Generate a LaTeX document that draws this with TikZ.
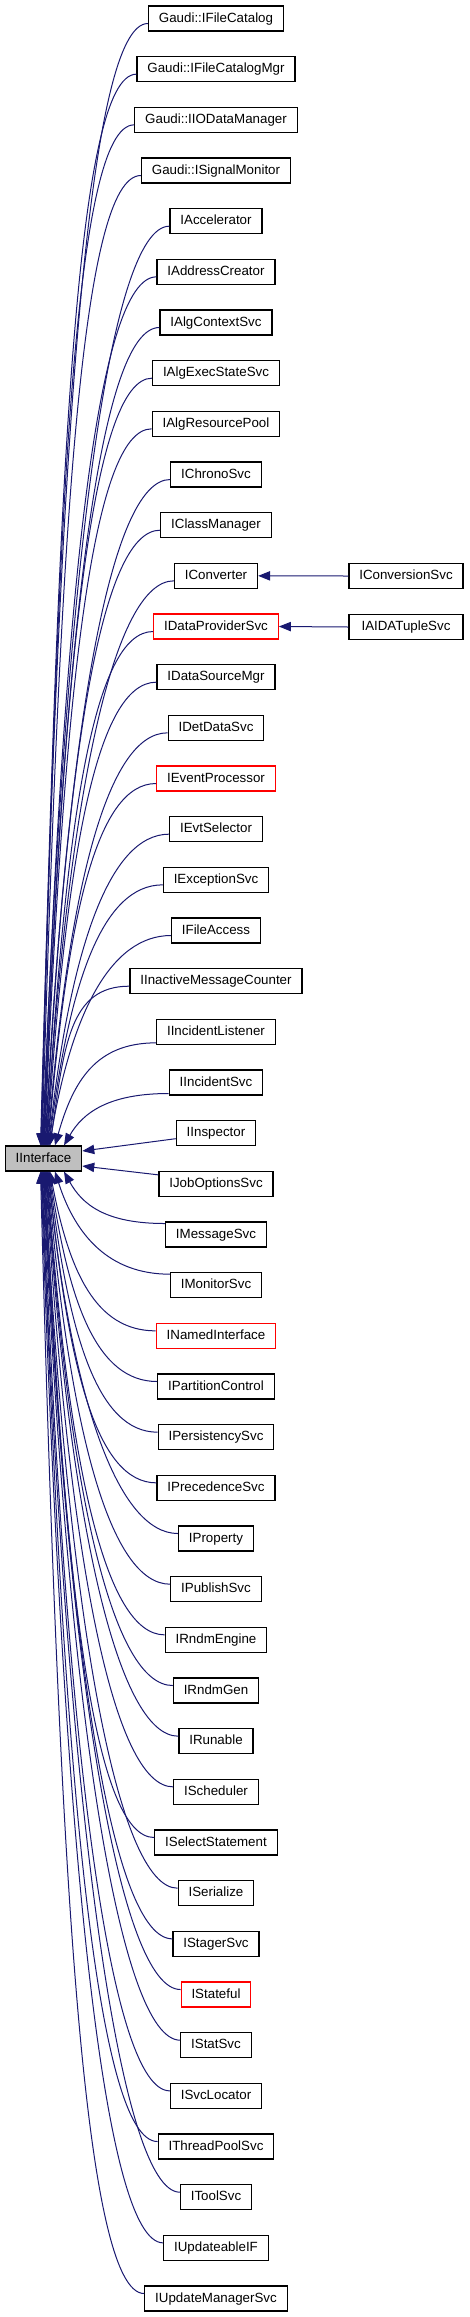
\documentclass[tikz,border=0pt]{standalone}
\usepackage{fontspec}
\setmainfont{Liberation Sans}
\usetikzlibrary{arrows.meta,calc}
\definecolor{midnight}{HTML}{191970}
\definecolor{ifacegray}{HTML}{BFBFBF}
\tikzset{
  cls/.style={draw=black, line width=0.9pt, fill=white, inner xsep=7.8pt, inner ysep=0pt,
    minimum height=18.75pt, text height=7.5pt, text depth=2pt, font=\fontsize{10}{12}\selectfont},
  clsred/.style={cls, draw=red},
  clsbase/.style={cls, fill=ifacegray},
  clsright/.style={cls, minimum width=85.5pt},
  inherit/.style={->, draw=midnight, line width=0.75pt}
}
\begin{document}
\begin{tikzpicture}[x=0.75pt, y=-0.75pt, >={Triangle[length=9pt,width=7pt]}]
	\useasboundingbox (0,0) rectangle (469,2317);
	% base class
	\node[clsbase] (iface) at (43.5,1158.5) {IInterface};
	% derived classes, one per row
	\foreach \name/\sty [count=\i from 0] in {Gaudi::IFileCatalog/cls, Gaudi::IFileCatalogMgr/cls,
		Gaudi::IIODataManager/cls, Gaudi::ISignalMonitor/cls, IAccelerator/cls, IAddressCreator/cls,
		IAlgContextSvc/cls, IAlgExecStateSvc/cls, IAlgResourcePool/cls, IChronoSvc/cls,
		IClassManager/cls, IConverter/cls, IDataProviderSvc/clsred, IDataSourceMgr/cls,
		IDetDataSvc/cls, IEventProcessor/clsred, IEvtSelector/cls, IExceptionSvc/cls,
		IFileAccess/cls, IInactiveMessageCounter/cls, IIncidentListener/cls, IIncidentSvc/cls,
		IInspector/cls, IJobOptionsSvc/cls, IMessageSvc/cls, IMonitorSvc/cls,
		INamedInterface/clsred, IPartitionControl/cls, IPersistencySvc/cls, IPrecedenceSvc/cls,
		IProperty/cls, IPublishSvc/cls, IRndmEngine/cls, IRndmGen/cls, IRunable/cls,
		IScheduler/cls, ISelectStatement/cls, ISerialize/cls, IStagerSvc/cls, IStateful/clsred,
		IStatSvc/cls, ISvcLocator/cls, IThreadPoolSvc/cls, IToolSvc/cls, IUpdateableIF/cls,
		IUpdateManagerSvc/cls}
		\node[\sty] (c\i) at (216,{18.5+50.667*\i}) {\name};
	% second level
	\node[clsright] (convsvc) at (406,576) {IConversionSvc};
	\node[clsright] (tuplesvc) at (406,627) {IAIDATupleSvc};
	\draw[inherit] (convsvc.west) -- (c11.east);
	\draw[inherit] (tuplesvc.west) -- (c12.east);
	% edges to IInterface
	\foreach \i in {0,...,45}{
		\ifnum\i=22
			\draw[inherit] ($(c\i.west)+(0,5.5)$) -- ($(iface.east)+(0,-7.5)$);
		\else\ifnum\i=23
			\draw[inherit] ($(c\i.west)+(0,-9)$) -- ($(iface.east)+(0,7.5)$);
		\else
			\pgfmathsetmacro\dd{abs(\i-22.5)}
			\pgfmathsetmacro\xo{\dd<2 ? 20.5 : (\dd<3 ? 11.5 : max(-3,6.5-0.5*(\dd-3.5)))}
			\pgfmathsetmacro\kk{\dd<3 ? 11 : 5}
			\ifnum\i<22 \def\side{north}\def\sg{1}\else\def\side{south}\def\sg{-1}\fi
			\draw[inherit] let \p1=($(c\i.west)+(0,{\sg*\kk})$), \p2=($(iface.\side)+(\xo,0)$) in
				(\p1) .. controls (\x1-45pt,\y1) and ({\x2+0.18*(\x1-\x2)},{\y2+0.63*(\y1-\y2)}) .. (\p2);
		\fi\fi
	}
\end{tikzpicture}
\end{document}
